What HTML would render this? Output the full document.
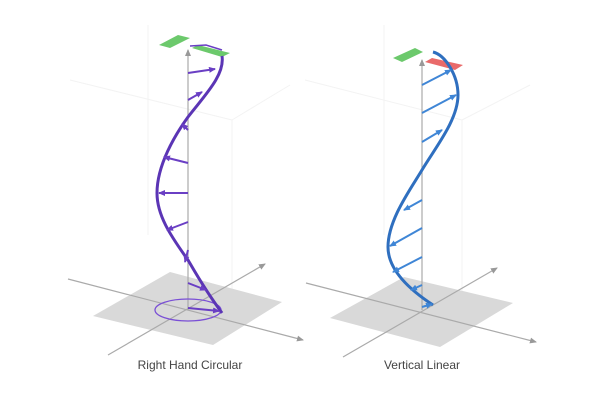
<!DOCTYPE html>
<html><head><meta charset="utf-8"><style>
html,body{margin:0;padding:0;background:#fff;width:600px;height:400px;overflow:hidden}
svg{display:block}
text{font-family:"Liberation Sans",sans-serif;font-size:12px;fill:#444}
</style></head><body>
<svg width="600" height="400" viewBox="0 0 600 400">
<defs>
<marker id="ga" markerWidth="8" markerHeight="8" refX="6" refY="3" orient="auto" markerUnits="userSpaceOnUse"><path d="M0,0 L7,3 L0,6 z" fill="#999"/></marker>
<marker id="pa" markerWidth="8" markerHeight="8" refX="6" refY="3" orient="auto" markerUnits="userSpaceOnUse"><path d="M0,0 L7,3 L0,6 z" fill="#6a3fc4"/></marker>
<marker id="ba" markerWidth="8" markerHeight="8" refX="6" refY="3" orient="auto" markerUnits="userSpaceOnUse"><path d="M0,0 L7,3 L0,6 z" fill="#3f86d6"/></marker>
</defs>
<g stroke="#f3f3f3" stroke-width="1" fill="none">
<line x1="148" y1="25" x2="148" y2="235"/><line x1="232" y1="120" x2="232" y2="300"/>
<line x1="70" y1="80" x2="232" y2="120"/><line x1="232" y1="120" x2="290" y2="85"/>
<line x1="384" y1="25" x2="384" y2="235"/><line x1="462" y1="120" x2="462" y2="300"/>
<line x1="305" y1="80" x2="462" y2="120"/><line x1="462" y1="120" x2="530" y2="85"/>
</g>
<!-- LEFT -->
<polygon points="93,316 170,272 282,302 213,345" fill="#d9d9d9"/>
<g stroke="#aaa" stroke-width="1.2">
<line x1="68" y1="279" x2="303" y2="340" marker-end="url(#ga)"/>
<line x1="108" y1="355" x2="265" y2="264" marker-end="url(#ga)"/>
<line x1="188" y1="310" x2="188" y2="50" marker-end="url(#ga)"/>
</g>
<ellipse cx="188" cy="310" rx="33" ry="11" fill="none" stroke="#7a4fd6" stroke-width="1.3"/>
<polygon points="159,45 178,35 190,38 170,48" fill="#6cc96c"/>
<polygon points="192,48 198,45 230,53 222,57" fill="#6cc96c"/>
<path d="M222,313 C205,290 195,272 188,260 C170,235 157,215 157,193 C157,165 175,135 188,117 C205,95 225,75 222,56" fill="none" stroke="#5b35b5" stroke-width="3"/>
<g stroke="#6a3fc4" stroke-width="2">
<line x1="188" y1="73" x2="215" y2="69" marker-end="url(#pa)"/>
<line x1="188" y1="100" x2="202" y2="92" marker-end="url(#pa)"/>
<line x1="188" y1="130" x2="182" y2="124" marker-end="url(#pa)"/>
<line x1="188" y1="163" x2="164" y2="157" marker-end="url(#pa)"/>
<line x1="188" y1="193" x2="159" y2="193" marker-end="url(#pa)"/>
<line x1="188" y1="222" x2="167" y2="230" marker-end="url(#pa)"/>
<line x1="188" y1="250" x2="185" y2="262" marker-end="url(#pa)"/>
<line x1="188" y1="283" x2="206" y2="290" marker-end="url(#pa)"/>
<line x1="188" y1="308" x2="219" y2="311" marker-end="url(#pa)"/>
</g>
<polyline points="190,46 206,45 222,50" fill="none" stroke="#6a3fc4" stroke-width="1.5"/>
<text x="190" y="369" text-anchor="middle">Right Hand Circular</text>
<!-- RIGHT -->
<polygon points="330,318 404,277 513,303 440,347" fill="#d9d9d9"/>
<g stroke="#aaa" stroke-width="1.2">
<line x1="306" y1="283" x2="536" y2="342" marker-end="url(#ga)"/>
<line x1="343" y1="357" x2="497" y2="268" marker-end="url(#ga)"/>
<line x1="422" y1="310" x2="422" y2="60" marker-end="url(#ga)"/>
</g>
<polygon points="393,58 415,48 423,52 402,62" fill="#6cc96c"/>
<polygon points="425,62 432,58 463,65 455,70" fill="#e96a6a"/>
<path d="M433,305 C410,290 388,270 388,247 C388,220 410,190 422,170 C435,148 458,120 458,95 C458,75 445,55 433,52" fill="none" stroke="#2f6fbf" stroke-width="3"/>
<g stroke="#3f86d6" stroke-width="2">
<line x1="422" y1="85" x2="451" y2="70" marker-end="url(#ba)"/>
<line x1="422" y1="113" x2="456" y2="95" marker-end="url(#ba)"/>
<line x1="422" y1="142" x2="442" y2="130" marker-end="url(#ba)"/>
<line x1="422" y1="200" x2="404" y2="210" marker-end="url(#ba)"/>
<line x1="422" y1="228" x2="390" y2="246" marker-end="url(#ba)"/>
<line x1="422" y1="257" x2="393" y2="272" marker-end="url(#ba)"/>
<line x1="422" y1="285" x2="411" y2="290" marker-end="url(#ba)"/>
<line x1="422" y1="307" x2="432" y2="304" marker-end="url(#ba)"/>
</g>
<text x="422" y="369" text-anchor="middle">Vertical Linear</text>
</svg>
</body></html>
